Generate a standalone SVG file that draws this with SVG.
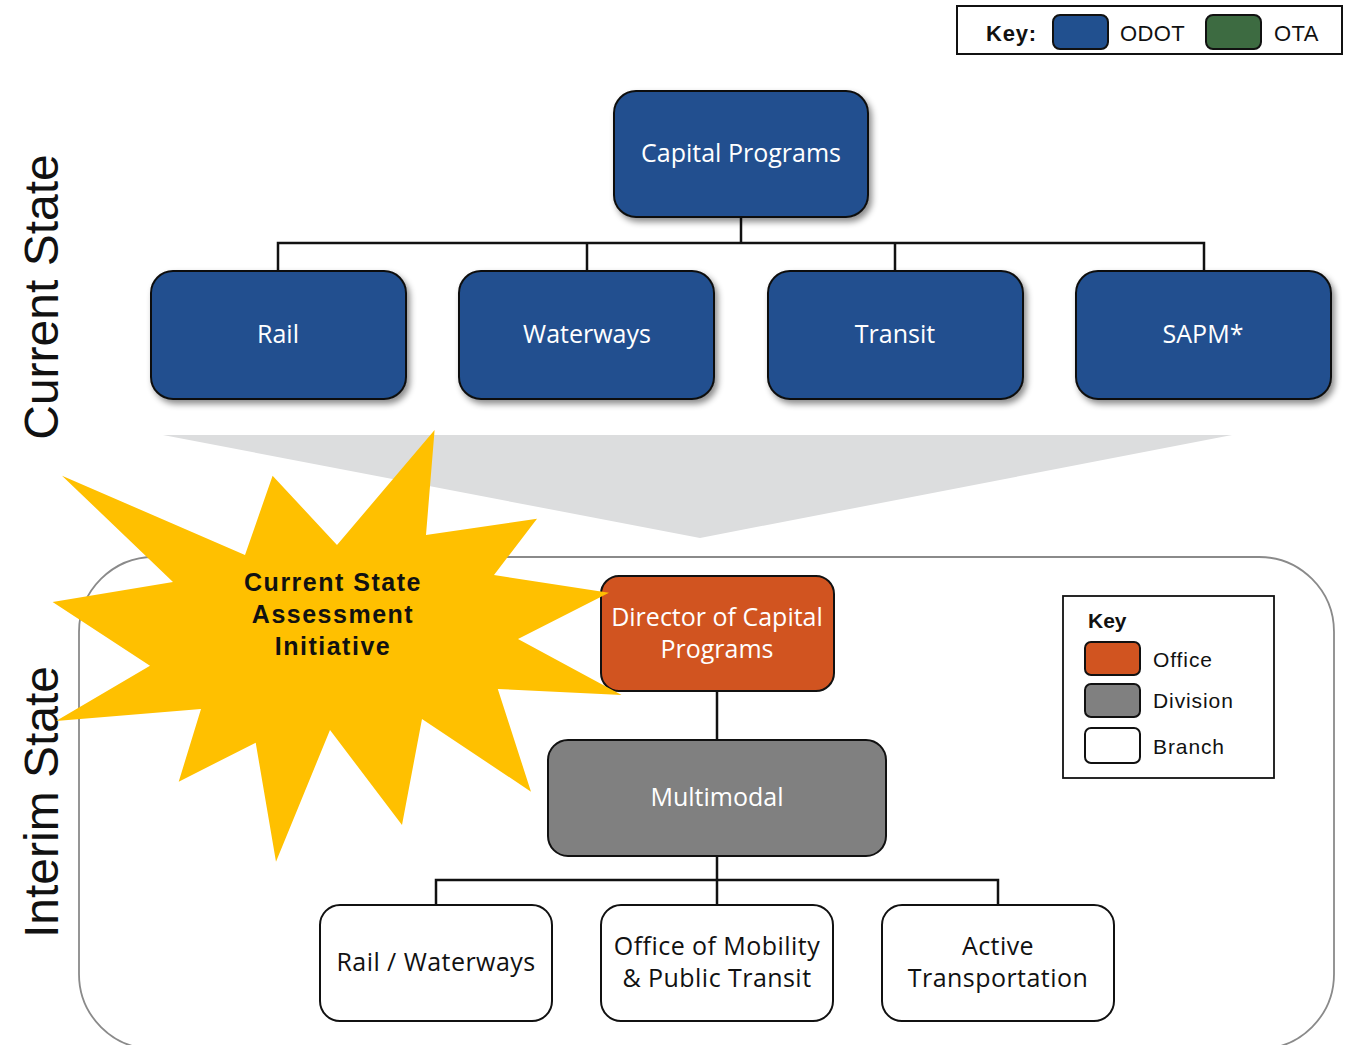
<svg xmlns="http://www.w3.org/2000/svg" width="1348" height="1045" viewBox="0 0 1348 1045">
<style>
.blue{fill:#21508F;stroke:#111;stroke-width:2}
.orange{fill:#D15420;stroke:#111;stroke-width:2}
.gray{fill:#808080;stroke:#111;stroke-width:2}
.white{fill:#fff;stroke:#111;stroke-width:2}
.wt{font-family:"Open Sans",sans-serif;font-size:25px;fill:#fff;text-anchor:middle}
.bt{font-family:"Open Sans",sans-serif;font-size:25px;letter-spacing:0.45px;fill:#111;text-anchor:middle}
.ar{font-family:"Liberation Sans",Arial,sans-serif;fill:#111}
.conn{stroke:#111;stroke-width:2.5;fill:none}
</style>
<defs>
<filter id="sh" x="-10%" y="-10%" width="130%" height="140%">
<feDropShadow dx="3" dy="4" stdDeviation="3" flood-color="#000" flood-opacity="0.45"/>
</filter>
</defs>
<rect width="1348" height="1045" fill="#fff"/>

<!-- top key -->
<g id="topkey">
<rect x="957" y="6" width="385" height="48" fill="#fff" stroke="#111" stroke-width="2"/>
<text x="986" y="41" class="ar" font-size="22" font-weight="bold" letter-spacing="0.8">Key:</text>
<rect x="1053" y="15" width="55" height="34" rx="7" fill="#21508F" stroke="#111" stroke-width="2"/>
<text x="1120" y="41" class="ar" font-size="22" letter-spacing="0.4">ODOT</text>
<rect x="1206" y="15" width="55" height="34" rx="7" fill="#3D6B41" stroke="#111" stroke-width="2"/>
<text x="1274" y="41" class="ar" font-size="22" letter-spacing="0.4">OTA</text>
</g>

<!-- side labels -->
<text class="ar" font-size="48" text-anchor="middle" transform="translate(58,297) rotate(-90)">Current State</text>
<text class="ar" font-size="48" text-anchor="middle" transform="translate(58,802) rotate(-90)">Interim State</text>

<!-- interim container -->
<rect id="interim" x="79" y="557" width="1255" height="492" rx="75" fill="none" stroke="#8a8a8a" stroke-width="1.8"/>

<!-- gray funnel -->
<polygon points="163,435 1232,435 700,538" fill="#DCDDDE"/>

<!-- connectors -->
<g id="connectors">
<path class="conn" d="M741,217V243M278,271V243H1204V271M587,243V271M895,243V271"/>
<path class="conn" d="M717,691V740M717,856V905M436,905V880H998V905"/>
</g>

<g id="capital"><rect class="blue" x="614" y="91" width="254" height="126" rx="22" filter="url(#sh)"/><text class="wt" x="741" y="162">Capital Programs</text></g>
<g id="rail"><rect class="blue" x="151" y="271" width="255" height="128" rx="22" filter="url(#sh)"/><text class="wt" x="278" y="343">Rail</text></g>
<g id="waterways"><rect class="blue" x="459" y="271" width="255" height="128" rx="22" filter="url(#sh)"/><text class="wt" x="587" y="343">Waterways</text></g>
<g id="transit"><rect class="blue" x="768" y="271" width="255" height="128" rx="22" filter="url(#sh)"/><text class="wt" x="895" y="343">Transit</text></g>
<g id="sapm"><rect class="blue" x="1076" y="271" width="255" height="128" rx="22" filter="url(#sh)"/><text class="wt" x="1203" y="343">SAPM*</text></g>

<g id="director"><rect class="orange" x="601" y="576" width="233" height="115" rx="18"/><text class="wt" x="717" y="626">Director of Capital</text><text class="wt" x="717" y="658">Programs</text></g>
<g id="multimodal"><rect class="gray" x="548" y="740" width="338" height="116" rx="20"/><text class="wt" x="717" y="806">Multimodal</text></g>
<g id="railwaterways"><rect class="white" x="320" y="905" width="232" height="116" rx="20"/><text class="bt" x="436" y="971">Rail / Waterways</text></g>
<g id="mobility"><rect class="white" x="601" y="905" width="232" height="116" rx="20"/><text class="bt" x="717" y="955">Office of Mobility</text><text class="bt" x="717" y="987">&amp; Public Transit</text></g>
<g id="active"><rect class="white" x="882" y="905" width="232" height="116" rx="20"/><text class="bt" x="998" y="955">Active</text><text class="bt" x="998" y="987">Transportation</text></g>

<!-- starburst -->
<g id="starburst">
<polygon fill="#FFC000" points="434.6,430 426,535 537,518.7 494,575 609,592.7 518,639 621.6,695 497.8,689 531,791.7 422,719 402,825 330,730 276,861.7 255.7,742.7 178.7,781.7 201,709 56,721 150,665.7 52.6,602 173,582 62,475.7 245,555 272.6,475.7 337,545"/>
<text class="ar" font-size="25" font-weight="bold" text-anchor="middle" letter-spacing="1.5" x="333" y="591">Current State</text>
<text class="ar" font-size="25" font-weight="bold" text-anchor="middle" letter-spacing="1.5" x="333" y="623">Assessment</text>
<text class="ar" font-size="25" font-weight="bold" text-anchor="middle" letter-spacing="1.5" x="333" y="655">Initiative</text>
</g>

<!-- interim key -->
<g id="key2">
<rect x="1063" y="596" width="211" height="182" fill="#fff" stroke="#111" stroke-width="1.8"/>
<text x="1088" y="628" class="ar" font-size="21" font-weight="bold">Key</text>
<rect x="1085" y="642" width="55" height="33" rx="6" fill="#D15420" stroke="#111" stroke-width="2"/>
<text x="1153" y="667" class="ar" font-size="21" letter-spacing="0.9">Office</text>
<rect x="1085" y="684" width="55" height="33" rx="6" fill="#808080" stroke="#111" stroke-width="2"/>
<text x="1153" y="708" class="ar" font-size="21" letter-spacing="0.9">Division</text>
<rect x="1085" y="728" width="55" height="35" rx="6" fill="#fff" stroke="#111" stroke-width="2"/>
<text x="1153" y="754" class="ar" font-size="21" letter-spacing="0.9">Branch</text>
</g>
</svg>
